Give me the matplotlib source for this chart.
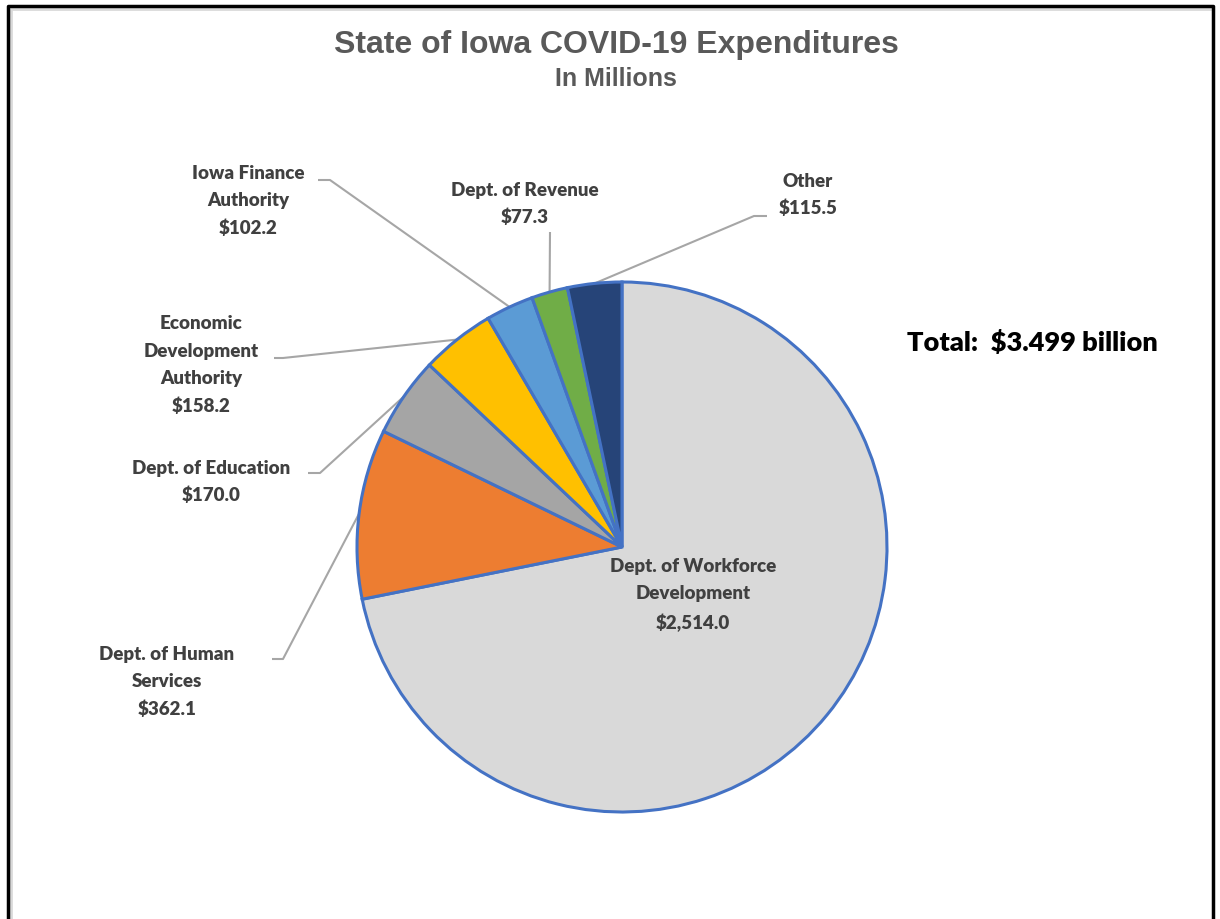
import numpy as np
import matplotlib.pyplot as plt
from matplotlib.lines import Line2D

# expenditures in millions of dollars
labels = ["Dept. of Workforce\nDevelopment", "Dept. of Human\nServices", "Dept. of Education",
          "Economic\nDevelopment\nAuthority", "Iowa Finance\nAuthority", "Dept. of Revenue", "Other"]
values = [2514.0, 362.1, 170.0, 158.2, 102.2, 77.3, 115.5]
colors = ["#D9D9D9", "#ED7D31", "#A5A5A5", "#FFC000", "#5B9BD5", "#70AD47", "#264478"]
total_text = "Total:  $3.499 billion"

W, H = 1220, 919

def px(x, y):
    # pixel position (from top-left) -> data coords
    return x, H - y

fig = plt.figure(figsize=(12.2, 9.19), dpi=100)
ax = fig.add_axes([0, 0, 1, 1])
ax.set_xlim(0, W)
ax.set_ylim(0, H)
ax.set_aspect("equal")
ax.axis("off")

cx, cy = px(622, 547)
R = 265
wedges, _ = ax.pie(values, colors=colors, startangle=90, counterclock=False,
                   center=(cx, cy), radius=R,
                   wedgeprops=dict(edgecolor="#4472C4", linewidth=2.2))
ax.set_xlim(0, W)
ax.set_ylim(0, H)

font = "Lato"
lab_color = "#404040"
lab_kw = dict(ha="center", va="center", fontsize=13.5, fontweight="heavy",
              color=lab_color, family=font, linespacing=1.72)

# label layout: text center, elbow point, horizontal end (pixel coords)
layout = {
    1: ((167, 682), (283, 659), (272, 659)),
    2: ((211, 482), (320, 473), (308, 473)),
    3: ((201, 365), (283, 358), (274, 358)),
    4: ((248, 201), (330, 180), (318, 180)),
    5: ((525, 204), (550, 232), (550, 232)),
    6: ((808, 195), (754, 216), (767, 216)),
}

for i, w in enumerate(wedges):
    txt = "%s\n$%s" % (labels[i], format(values[i], ",.1f"))
    if i == 0:
        ax.text(*px(693, 595), txt, **lab_kw)
        continue
    (tx, ty), elbow, end = layout[i]
    mid = np.deg2rad((w.theta1 + w.theta2) / 2)
    p0 = (cx + R * np.cos(mid), cy + R * np.sin(mid))
    e = px(*elbow)
    f = px(*end)
    ax.plot([p0[0], e[0], f[0]], [p0[1], e[1], f[1]], color="#A6A6A6", lw=1.5,
            solid_capstyle="butt", zorder=0)
    ax.text(*px(tx, ty), txt, **lab_kw)

ax.text(*px(616, 45), "State of Iowa COVID-19 Expenditures", ha="center", va="center",
        fontsize=23, fontweight="bold", color="#595959", family="Liberation Sans")
ax.text(*px(616, 79), "In Millions", ha="center", va="center",
        fontsize=18, fontweight="bold", color="#595959", family="Liberation Sans")
ax.text(*px(1032, 342), total_text, ha="center", va="center",
        fontsize=19.5, fontweight="heavy", color="black", family=font)

# frame around the chart (open at the bottom)
fx = lambda x: x / W
fy = lambda y: 1 - y / H
fig.add_artist(Line2D([fx(11), fx(11), fx(1210)], [0, fy(9), fy(9)], color="#D9D9D9", lw=2))
fig.add_artist(Line2D([fx(8), fx(8), fx(1213), fx(1213)], [0, fy(6), fy(6), 0], color="black", lw=2.5))

fig.savefig("out.png", dpi=100)
